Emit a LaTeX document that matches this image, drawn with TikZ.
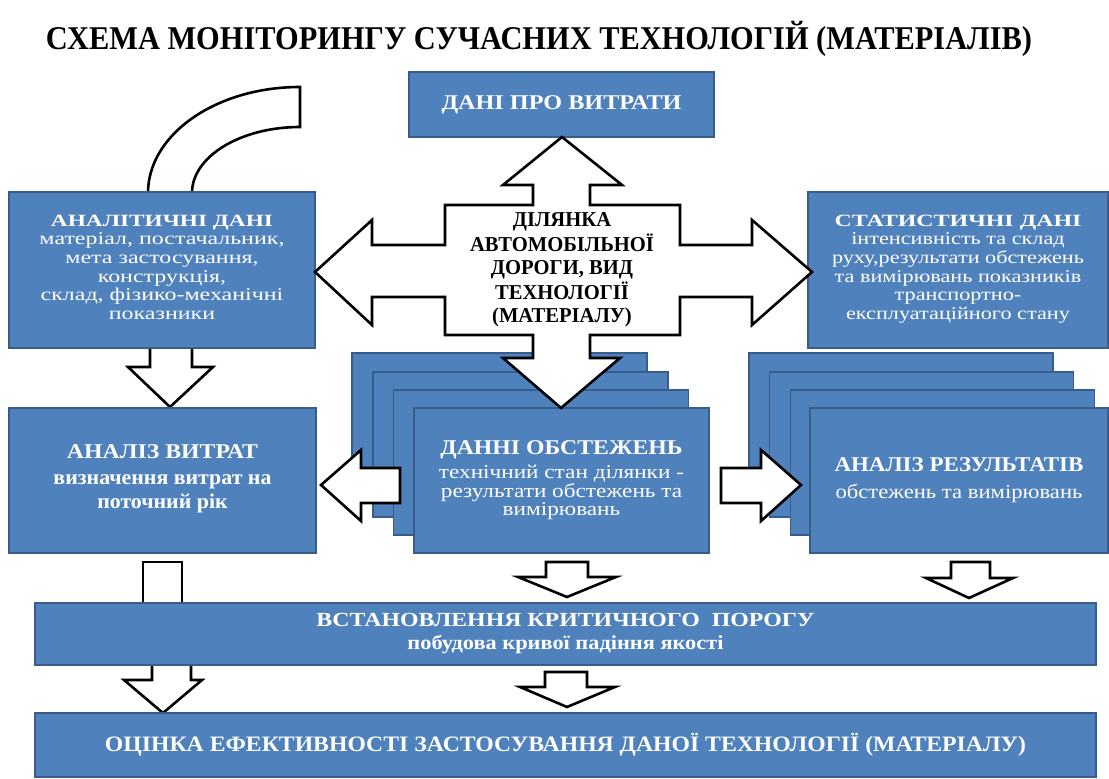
\documentclass[tikz,border=0pt]{standalone}
\usepackage{fontspec}
\setmainfont{Liberation Serif}
\usepackage{graphicx}
\definecolor{boxblue}{RGB}{79,129,189}
\definecolor{boxedge}{RGB}{56,93,138}
\newcommand\fitline[2]{\resizebox{#1}{\height}{#2}}
\newcommand\fsz[2]{\fontsize{#1}{#2}\selectfont}
\begin{document}
\begin{tikzpicture}[x=0.5pt,y=-0.5pt,
  bluebox/.style={fill=boxblue,draw=boxedge,line width=0.6pt,inner sep=0pt,text=white,align=center},
  backbox/.style={fill=boxblue,draw=boxedge,line width=0.6pt,inner sep=0pt,minimum height=72.5pt},
  bigarrow/.style={fill=white,draw=black,line width=1.3pt,line join=miter}]
\fill[white] (0,0) rectangle (1109,779);
\useasboundingbox (0,0) rectangle (1109,779);

% title
\node[inner sep=0pt,anchor=base] (title) at (539,50)
  {\fitline{493pt}{\fsz{16.6}{20}\bfseries СХЕМА МОНІТОРИНГУ СУЧАСНИХ ТЕХНОЛОГІЙ (МАТЕРІАЛІВ)}};

% curved block arrow behind the analytic box
\draw[bigarrow] (148,205) -- (148,193) .. controls (148,134.5) and (216,87) .. (300,87)
  -- (300,127) .. controls (240.4,127) and (192,156.6) .. (192,193) -- (192,205);

% block arrows whose ends are hidden by boxes
\draw[bigarrow] (150,340) -- (150,367) -- (128,367) -- (170,407) -- (213,367) -- (192,367) -- (192,340);
\draw[bigarrow] (143,615) -- (143,562) -- (182,562) -- (182,615);
\draw[bigarrow] (152,655) -- (152,680) -- (124,680) -- (163,713) -- (202,680) -- (191,680) -- (191,655);

% top boxes
\node[bluebox,minimum width=152.5pt,minimum height=32.5pt] (costs) at (561.5,104.5)
  {\fitline{120pt}{\fsz{10.5}{12}\bfseries ДАНІ ПРО ВИТРАТИ}};

\node[bluebox,minimum width=153pt,minimum height=78pt,font=\fsz{9}{9.3}] (anal) at (162,270)
  {\fitline{111pt}{\bfseries\fsz{8.6}{9.3}АНАЛІТИЧНІ ДАНІ}\\
   \fitline{122.5pt}{\fsz{9}{9.3}\begin{tabular}[t]{@{}c@{}}матеріал, постачальник,\\мета застосування,\\конструкція,\\склад, фізико-механічні\\показники\end{tabular}}};

\node[bluebox,minimum width=150pt,minimum height=78pt,font=\fsz{9}{9.3}] (stat) at (958,270)
  {\fitline{123.5pt}{\bfseries\fsz{8.6}{9.3}СТАТИСТИЧНІ ДАНІ}\\
   \fitline{126pt}{\fsz{9}{9.3}\begin{tabular}[t]{@{}c@{}}інтенсивність та склад\\руху,результати обстежень\\та вимірювань показників\\транспортно-\\експлуатаційного стану\end{tabular}}};

\node[bluebox,minimum width=153.5pt,minimum height=72.5pt,font=\fsz{10}{13}] (ancost) at (162.5,480.5)
  {\fitline{95.5pt}{\bfseries\fsz{10.5}{12}АНАЛІЗ ВИТРАТ}\\
   \fitline{109pt}{\fsz{10.5}{12}\bfseries\begin{tabular}[t]{@{}c@{}}визначення витрат на\\поточний рік\end{tabular}}};

% stack: survey data
\node[backbox,minimum width=147.5pt] (d0) at (499.5,425.5) {};
\node[backbox,minimum width=147.5pt] (d1) at (520.5,444.5) {};
\node[backbox,minimum width=147.5pt] (d2) at (541,462.5) {};
\node[bluebox,minimum width=147.5pt,minimum height=72.5pt,font=\fsz{9}{12}] (survey) at (561.5,480.5)
  {\fitline{121pt}{\bfseries\fsz{10.5}{12}ДАННІ ОБСТЕЖЕНЬ}\\
   \fitline{122.5pt}{\fsz{9.8}{8.6}\begin{tabular}[t]{@{}c@{}}технічний стан ділянки -\\результати обстежень та\\вимірювань\end{tabular}}};

% stack: results analysis
\node[backbox,minimum width=152pt] (r0) at (901,425.5) {};
\node[backbox,minimum width=152pt] (r1) at (921.5,444.5) {};
\node[backbox,minimum width=152pt] (r2) at (942.5,462.5) {};
\node[bluebox,minimum width=149pt,minimum height=72.5pt,font=\fsz{9}{13.5}] (results) at (959,480.5)
  {\fitline{124.5pt}{\bfseries\fsz{10.5}{12}АНАЛІЗ РЕЗУЛЬТАТІВ}\\
   \fitline{123.5pt}{\fsz{10}{11}обстежень та вимірювань}};

% central four-way block arrow
\draw[bigarrow] (562,137) -- (622,185) -- (590,185) -- (590,205) -- (680,205) -- (680,245)
  -- (752,245) -- (752,220) -- (812,272) -- (752,325) -- (752,297) -- (680,297) -- (680,335)
  -- (590,335) -- (590,358) -- (620,358) -- (561,408) -- (503,358) -- (533,358) -- (533,335)
  -- (445,335) -- (445,297) -- (372,297) -- (372,325) -- (315,272) -- (372,220) -- (372,245)
  -- (445,245) -- (445,205) -- (533,205) -- (533,185) -- (503,185) -- cycle;
\node[inner sep=0pt] (site) at (562,270)
  {\fitline{92pt}{\fsz{10.6}{11.6}\bfseries\begin{tabular}{@{}c@{}}ДІЛЯНКА\\АВТОМОБІЛЬНОЇ\\ДОРОГИ, ВИД\\ТЕХНОЛОГІЇ\\(МАТЕРІАЛУ)\end{tabular}}};

% side block arrows from the survey stack
\draw[bigarrow] (400,468) -- (361,468) -- (361,450) -- (321,485) -- (361,521) -- (361,503) -- (400,503) -- cycle;
\draw[bigarrow] (721,468) -- (761,468) -- (761,450) -- (801,485) -- (761,521) -- (761,503) -- (721,503) -- cycle;

% small down arrows
\draw[bigarrow] (546,562) -- (588,562) -- (588,577) -- (616,577) -- (567,597) -- (518,577) -- (546,577) -- cycle;
\draw[bigarrow] (951,562) -- (990,562) -- (990,578) -- (1013,578) -- (969,598) -- (926,578) -- (951,578) -- cycle;
\draw[bigarrow] (545,672) -- (587,672) -- (587,687) -- (615,687) -- (567,707) -- (520,687) -- (545,687) -- cycle;

% threshold and evaluation boxes
\node[bluebox,minimum width=530.5pt,minimum height=31pt,font=\fsz{10}{11.5}] (thresh) at (565.5,634)
  {\fitline{249pt}{\bfseries\fsz{10}{11.5}ВСТАНОВЛЕННЯ КРИТИЧНОГО~~ПОРОГУ}\\
   \fitline{158pt}{\bfseries\fsz{10}{11.5}побудова кривої падіння якості}};

\node[bluebox,minimum width=530.5pt,minimum height=32pt] (eval) at (565.5,745)
  {\fitline{460.5pt}{\bfseries\fsz{11}{13}ОЦІНКА ЕФЕКТИВНОСТІ ЗАСТОСУВАННЯ ДАНОЇ ТЕХНОЛОГІЇ (МАТЕРІАЛУ)}};
\end{tikzpicture}
\end{document}
